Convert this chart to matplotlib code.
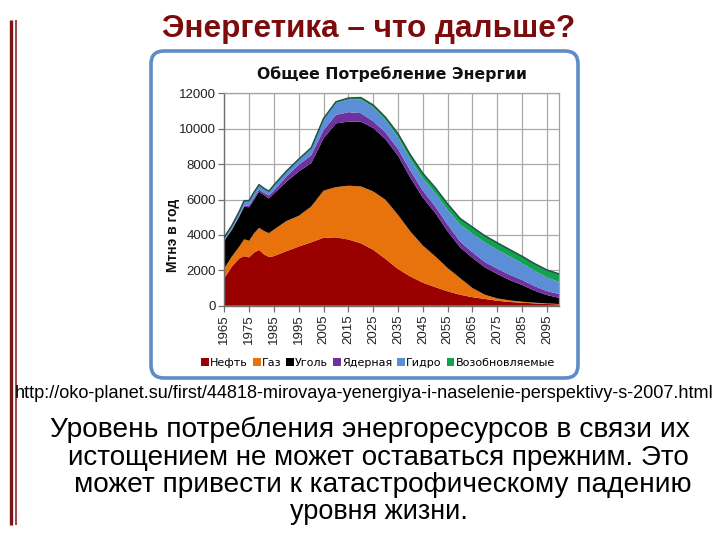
import matplotlib
matplotlib.use('Agg')
import matplotlib.pyplot as plt
from matplotlib.patches import FancyBboxPatch, Patch
from matplotlib.lines import Line2D

# ---------------- data ----------------
years = [1965, 1968, 1971, 1973, 1975, 1977, 1979, 1981, 1983, 1985, 1990, 1995,
         2000, 2005, 2010, 2015, 2020, 2025, 2030, 2035, 2040, 2045, 2050, 2055,
         2060, 2065, 2070, 2075, 2080, 2085, 2090, 2095, 2100]
oil = [1550, 2200, 2670, 2800, 2730, 3000, 3150, 2900, 2750, 2800, 3080, 3340,
       3580, 3840, 3860, 3740, 3530, 3160, 2640, 2070, 1650, 1300, 1050, 810,
       620, 480, 380, 280, 210, 170, 130, 95, 75]
gas = [560, 570, 660, 950, 940, 1090, 1250, 1320, 1350, 1500, 1700, 1740,
       2020, 2660, 2840, 3040, 3210, 3300, 3340, 3060, 2540, 2100, 1740, 1320,
       940, 520, 240, 135, 90, 55, 40, 35, 20]
coal = [1560, 1500, 1700, 1840, 1890, 1910, 2040, 2030, 1960, 2030, 2220, 2500,
        2450, 2950, 3600, 3620, 3660, 3580, 3420, 3340, 3030, 2700, 2450, 2070,
        1740, 1700, 1550, 1375, 1150, 945, 680, 470, 345]
nuclear = [30, 40, 50, 60, 80, 100, 120, 130, 170, 170, 300, 380,
           450, 470, 480, 530, 480, 380, 390, 380, 410, 400, 370, 380,
           330, 320, 300, 300, 300, 280, 260, 220, 220]
hydro = [150, 190, 220, 260, 280, 300, 260, 230, 220, 300, 280, 300,
         400, 620, 670, 720, 770, 800, 700, 680, 650, 700, 760, 840,
         950, 1050, 1100, 1080, 1030, 950, 870, 780, 680]
renewables = [20, 20, 20, 20, 20, 20, 20, 20, 20, 20, 20, 20,
              20, 40, 70, 80, 110, 120, 150, 190, 240, 280, 300, 330,
              350, 370, 380, 385, 390, 390, 400, 420, 450]

series_names = ['Нефть', 'Газ', 'Уголь', 'Ядерная', 'Гидро', 'Возобновляемые']
colors = ['#9A0000', '#E8720C', '#000000', '#7030A0', '#5B8ED6', '#12A14F']
x_ticks = [1965, 1975, 1985, 1995, 2005, 2015, 2025, 2035, 2045, 2055, 2065, 2075, 2085, 2095]
y_ticks = [0, 2000, 4000, 6000, 8000, 10000, 12000]

slide_title = 'Энергетика – что дальше?'
chart_title = 'Общее Потребление Энергии'
y_label = 'Мтнэ в год'
url_text = 'http://oko-planet.su/first/44818-mirovaya-yenergiya-i-naselenie-perspektivy-s-2007.html'
body_lines = ['Уровень потребления энергоресурсов в связи их',
              'истощением не может оставаться прежним. Это',
              'может привести к катастрофическому падению',
              'уровня жизни.']

# ---------------- figure ----------------
W, H = 720, 540
fig = plt.figure(figsize=(7.2, 5.4), dpi=100)
fig.patch.set_facecolor('white')


def fx(px):
    return px / W


def fy(py):
    return 1 - py / H


renderer = fig.canvas.get_renderer()


def fit(t, target_w):
    w = t.get_window_extent(renderer).width
    t.set_fontsize(t.get_fontsize() * target_w / w)


# left decorative double bar
fig.add_artist(Line2D([fx(11), fx(11)], [fy(20), fy(525)], transform=fig.transFigure,
                      color='#7E1414', lw=2.4, solid_capstyle='butt'))
fig.add_artist(Line2D([fx(15.5), fx(15.5)], [fy(20), fy(525)], transform=fig.transFigure,
                      color='#7E1414', lw=1.1, solid_capstyle='butt'))

# slide title
t = fig.text(fx(369), fy(28.5), slide_title, ha='center', va='center', fontsize=22,
             fontweight='bold', color='#7D0B0B', family=['Liberation Sans', 'DejaVu Sans'])
fit(t, 414)

# chart frame (rounded box)
box = FancyBboxPatch((fx(151), fy(378)), fx(578) - fx(151), fy(51) - fy(378),
                     boxstyle='round,pad=0,rounding_size=0.018', mutation_aspect=W / H,
                     transform=fig.transFigure, facecolor='white', edgecolor='#5E8CC6',
                     linewidth=2.6, zorder=-5)
fig.patches.append(box)

# chart title
t = fig.text(fx(392), fy(74), chart_title, ha='center', va='center', fontsize=12,
             fontweight='bold', color='#111111', family=['DejaVu Sans'])
fit(t, 270)

# axes
ax = fig.add_axes([224.3 / W, 1 - 305.7 / H, (559.3 - 224.3) / W, (305.7 - 93.3) / H])
ax.set_zorder(2)
ax.set_facecolor('white')
ax.stackplot(years, oil, gas, coal, nuclear, hydro, renewables,
             colors=colors, linewidth=0, zorder=2)
total = [a + b + c + d + e + f for a, b, c, d, e, f in zip(oil, gas, coal, nuclear, hydro, renewables)]
ax.plot(years, total, color='#1F5545', lw=1.1, zorder=3)

ax.set_xlim(1965, 2100)
ax.set_ylim(0, 12000)
ax.set_xticks(x_ticks)
ax.set_xticklabels([str(v) for v in x_ticks], rotation=90, fontsize=9.5,
                   family='Liberation Sans', color='#222222')
ax.set_yticks(y_ticks)
ax.set_yticklabels([str(v) for v in y_ticks], fontsize=9.5, family='Liberation Sans',
                   color='#222222')
ax.grid(True, color='#A9A9A9', lw=0.9, zorder=1)
ax.set_axisbelow(True)
for s in ['top', 'right']:
    ax.spines[s].set_color('#A0A0A0')
    ax.spines[s].set_linewidth(0.9)
for s in ['left', 'bottom']:
    ax.spines[s].set_color('#707070')
    ax.spines[s].set_linewidth(1.0)
ax.tick_params(axis='both', direction='out', length=4, width=0.9, color='#707070', pad=2)

fig.text(fx(173), fy(235), y_label, rotation=90, ha='center', va='center', fontsize=10,
         fontweight='bold', color='#111111', family=['Liberation Sans', 'DejaVu Sans'])

# legend
handles = [Patch(facecolor=c, edgecolor='none') for c in colors]
leg = fig.legend(handles, series_names, loc='center', bbox_to_anchor=(fx(378), fy(363)),
                 ncol=6, frameon=False, handlelength=0.7, handleheight=0.7,
                 handletextpad=0.1, columnspacing=0.45, borderaxespad=0, borderpad=0,
                 prop={'family': 'DejaVu Sans', 'size': 8})

# URL text
t = fig.text(fx(364.5), fy(393), url_text, ha='center', va='center', fontsize=12,
             color='#000000', family=['Liberation Sans'])
fit(t, 699)

# body text
body_pos = [(370, 430, 640), (378.5, 458, 623), (382.5, 485, 615), (379, 512, 178)]
for line, (cx, cy, wd) in zip(body_lines, body_pos):
    t = fig.text(fx(cx), fy(cy), line, ha='center', va='center', fontsize=18,
                 color='#000000', family=['Liberation Sans'])
    fit(t, wd)

fig.savefig('out.png', dpi=100, facecolor='white')
